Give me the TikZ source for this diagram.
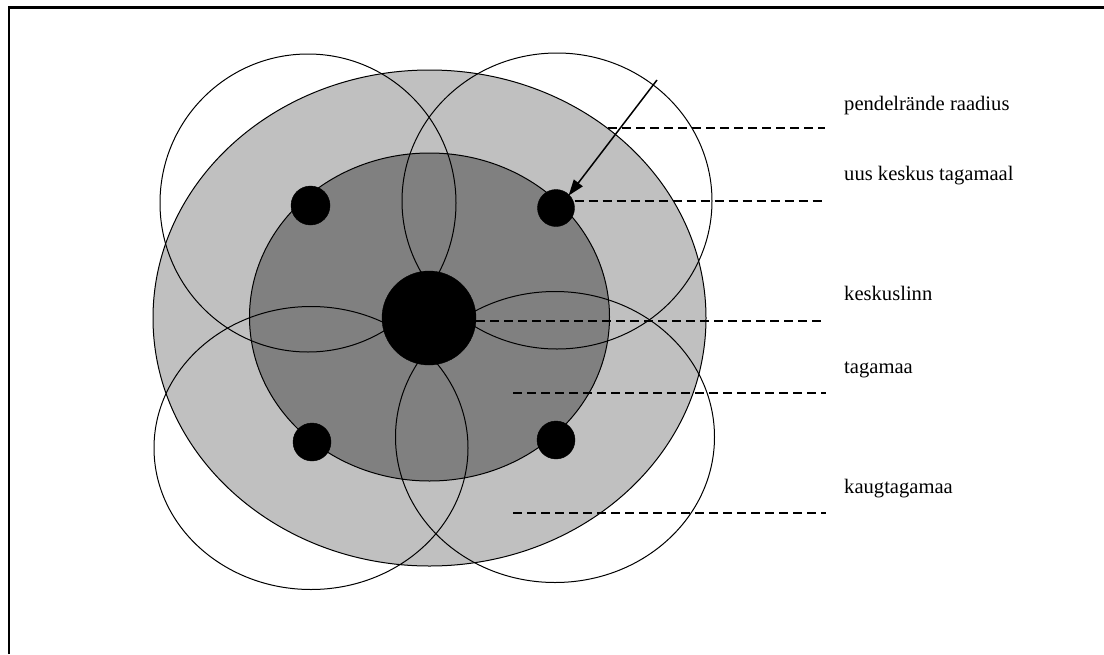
\documentclass[tikz,border=0pt]{standalone}
\usepackage{fontspec}
\setmainfont{Liberation Serif}
\usetikzlibrary{arrows.meta}
\definecolor{lightzone}{HTML}{C0C0C0}
\definecolor{darkzone}{HTML}{808080}
\tikzset{
  zone/.style={draw=black, line width=1pt},
  reach/.style={draw=black, line width=1pt},
  town/.style={fill=black, draw=black, circle, inner sep=0pt},
  leader/.style={draw=black, line width=1.5pt, dash pattern=on 9pt off 5pt},
  lbl/.style={anchor=base west, inner sep=0pt, font=\fontsize{20.6}{24}\selectfont},
  pointer/.style={draw=black, line width=1.5pt, -{Triangle[length=16pt,width=11pt]}}
}
\begin{document}
\begin{tikzpicture}[x=1pt,y=-1pt]
\useasboundingbox (0,0) rectangle (1104,654);
% frame (left and top edges only visible)
\draw[line width=2.2pt] (9,654) -- (9,7.5) -- (1104,7.5);
% zones
\fill[lightzone] (429.5,318) ellipse [x radius=276.5, y radius=248];
\draw[zone] (429.5,318) ellipse [x radius=276.5, y radius=248];
\fill[darkzone] (429.5,317) ellipse [x radius=180, y radius=164];
\draw[zone] (429.5,317) ellipse [x radius=180, y radius=164];
% commuting radii
\draw[reach] (308,203) ellipse [x radius=148, y radius=149];
\draw[reach] (557,201) ellipse [x radius=155, y radius=148];
\draw[reach] (311,448) ellipse [x radius=157, y radius=141.5];
\draw[reach] (555,437) ellipse [x radius=159.5, y radius=145.5];
% towns
\node[town, minimum size=94pt] (city) at (429,318) {};
\node[town, minimum size=39pt] (tl) at (310.5,205.5) {};
\node[town, minimum size=37pt] (tr) at (556,208) {};
\node[town, minimum size=38pt] (bl) at (312,442) {};
\node[town, minimum size=38pt] (br) at (556,440) {};
% labels
\node[lbl] (l1) at (844,110) {pendelrände raadius};
\node[lbl] (l2) at (844,180.7) {uus keskus tagamaal};
\node[lbl] (l3) at (844,300.7) {keskuslinn};
\node[lbl] (l4) at (844,373) {tagamaa};
\node[lbl] (l5) at (844,493) {kaugtagamaa};
% leader lines
\coordinate (a1) at (608,128);  \coordinate (b1) at (825,128);
\coordinate (a2) at (tr.east);  \coordinate (b2) at (825,201);
\coordinate (a3) at (city.east); \coordinate (b3) at (826,321);
\coordinate (a4) at (513,393);  \coordinate (b4) at (826,393);
\coordinate (a5) at (513,513);  \coordinate (b5) at (826,513);
\draw[leader] (a1) -- (b1);
\draw[leader] (a2 |- b2) -- (b2);
\draw[leader] (a3 |- b3) -- (b3);
\draw[leader] (a4) -- (b4);
\draw[leader] (a5) -- (b5);
% arrow
\coordinate (s) at (657,80);
\draw[pointer, shorten >=-1pt] (s) -- (tr.north east);
\end{tikzpicture}
\end{document}
